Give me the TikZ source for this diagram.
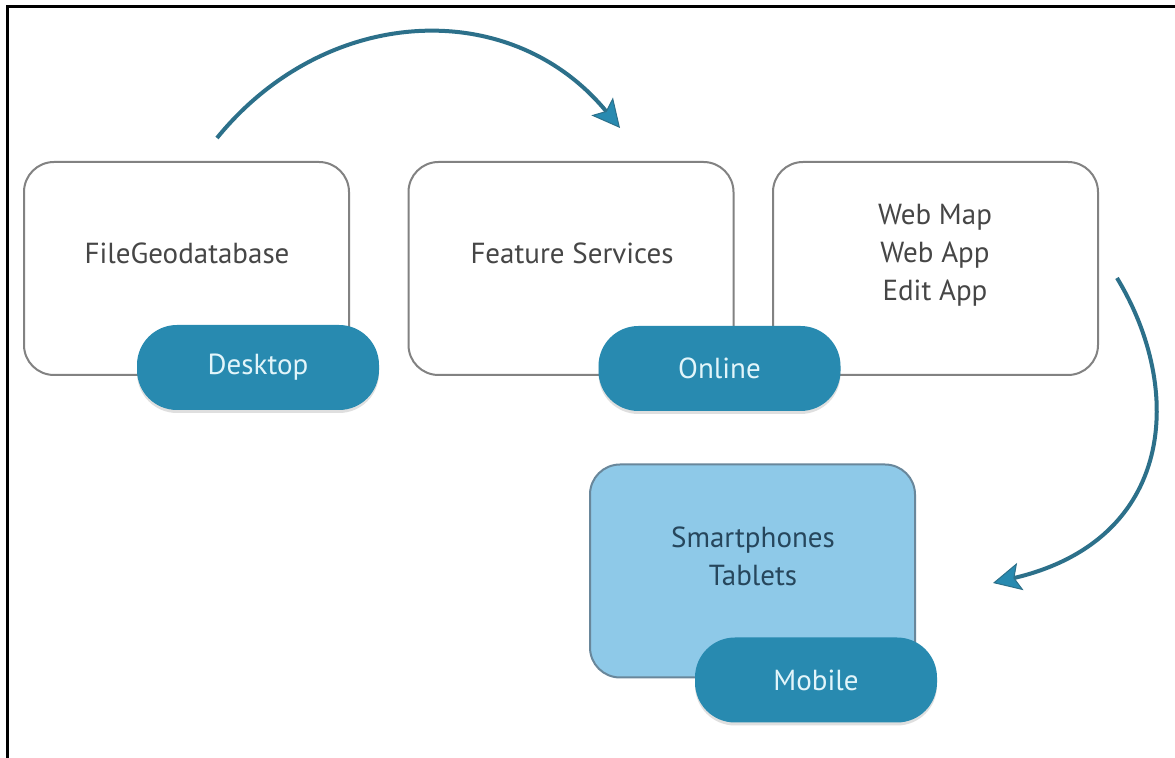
\documentclass[tikz,border=0pt]{standalone}
\usepackage{fontspec}
\setmainfont{PT Sans}
\usetikzlibrary{arrows.meta,shadows}
\definecolor{tagblue}{RGB}{40,138,176}
\definecolor{tagtext}{RGB}{226,245,250}
\definecolor{boxgray}{RGB}{130,130,130}
\definecolor{txtgray}{RGB}{70,70,70}
\definecolor{mobfill}{RGB}{142,201,232}
\definecolor{mobline}{RGB}{105,135,155}
\definecolor{mobtext}{RGB}{38,70,92}
\definecolor{arrowcol}{RGB}{44,112,138}
\tikzset{
  card/.style={draw=boxgray, line width=1pt, rounded corners=15pt, fill=white,
    minimum width=162.5pt, minimum height=106.5pt, inner sep=0pt},
  mobcard/.style={card, fill=mobfill, draw=mobline},
  tag/.style={fill=tagblue, rounded corners=20pt, minimum width=121pt, minimum height=42.5pt,
    text=tagtext, font=\fontsize{14.5}{16}\selectfont, inner sep=0pt,
    drop shadow={opacity=0.25, shadow xshift=0pt, shadow yshift=-1.5pt}},
  lbl/.style={text=txtgray, font=\fontsize{14.5}{19}\selectfont, align=center, inner sep=0pt},
  moblbl/.style={lbl, text=mobtext},
  flow/.style={draw=arrowcol, line width=2pt,
    -{Stealth[length=14pt,width=14pt,inset=3pt,fill=tagblue,line width=0.5pt]}}
}
\begin{document}
\begin{tikzpicture}[x=0.5pt,y=-0.5pt]
\useasboundingbox (0,0) rectangle (1175,758);
\fill[white] (0,0) rectangle (1175,758);
% frame (top and left only)
\draw[black, line width=1.5pt] (7,758) -- (7,7) -- (1175,7);

% cards
\node[card] (fgdb) at (186.5,268.5) {};
\node[card] (fs) at (571,268.5) {};
\node[card] (web) at (935.5,268.5) {};
\node[mobcard] (mob) at (752.5,571) {};

% card texts
\node[lbl] (fgdbt) at (187,253) {FileGeodatabase};
\node[lbl] (fst) at (572,253) {Feature Services};
\node[lbl] (webt) at (935,255) {Web Map\\Web App\\Edit App};
\node[moblbl] (mobt) at (753,556) {Smartphones\\Tablets};

% tags
\node[tag] (desk) at (258,367.5) {Desktop};
\node[tag] (onl) at (719.5,368.5) {Online};
\node[tag] (mobtag) at (816,680) {Mobile};

% arrows
\coordinate (a1s) at (217,138);
\coordinate (a1e) at (620,128);
\coordinate (a2s) at (1117,278);
\coordinate (a2e) at (993,583);
\draw[flow] (a1s) .. controls (325,5) and (510,-5) .. (a1e);
\draw[flow] (a2s) .. controls (1185,390) and (1175,540) .. (a2e);
\end{tikzpicture}
\end{document}
